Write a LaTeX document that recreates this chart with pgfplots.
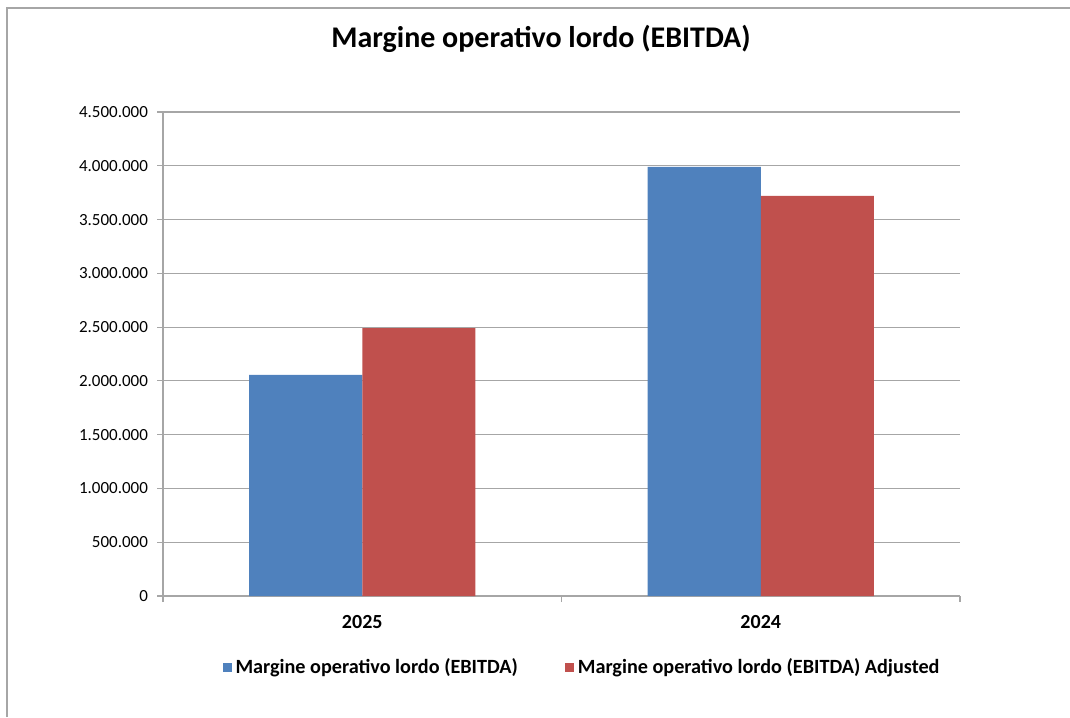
\documentclass[border=0pt]{standalone}
\usepackage{fontspec}
\setmainfont{Carlito}
\usepackage{pgfplots}
\pgfplotsset{compat=1.18}
\definecolor{eblue}{HTML}{4F81BD}
\definecolor{ered}{HTML}{C0504D}
\definecolor{gridc}{HTML}{A6A6A6}
\begin{document}
\begin{tikzpicture}
\useasboundingbox (0,0) rectangle (535pt,-358.5pt);
\draw[gridc, line width=1pt] (3.3pt,-358.5pt) -- (3.3pt,-3.8pt) -- (535pt,-3.8pt);
\node[font=\fontsize{15}{18}\selectfont\bfseries] at (270.5pt,-19.5pt) {Margine operativo lordo (EBITDA)};
\begin{axis}[
  at={(81.5pt,-298pt)}, anchor=south west,
  scale only axis, width=398.5pt, height=242pt,
  ymin=0, ymax=4500000, xmin=-0.5, xmax=1.5,
  enlargelimits=false, scaled y ticks=false,
  ybar=0pt, bar width=0.284,
  axis x line*=bottom, axis y line*=left,
  axis line style={gridc, line width=0.6pt},
  tick align=outside, major tick length=3pt,
  tick style={gridc, line width=0.6pt},
  ytick={0,500000,1000000,1500000,2000000,2500000,3000000,3500000,4000000,4500000},
  yticklabels={0,500.000,1.000.000,1.500.000,2.000.000,2.500.000,3.000.000,3.500.000,4.000.000,4.500.000},
  ymajorgrids, grid style={gridc, line width=0.6pt},
  yticklabel style={font=\fontsize{8.5}{10}\selectfont, text=black, xshift=-1pt},
  xtick={-0.5,0.5,1.5}, xticklabels={},
  extra x ticks={0,1}, extra x tick labels={2025,2024},
  extra x tick style={major tick length=0pt, grid=none,
     xticklabel style={font=\fontsize{10}{12}\selectfont\bfseries, text=black, yshift=-6pt}},
  /pgf/number format/assume math mode=true,
  legend columns=2,
  legend image code/.code={\fill[#1] (0pt,-2.25pt) rectangle (4.5pt,2.25pt);},
  legend style={draw=none, font=\fontsize{10.1}{12}\selectfont\bfseries,
     at={(0.527,-0.147)}, anchor=center,
     /tikz/every even column/.append style={column sep=21.5pt}},
]
\addplot[fill=eblue, draw=none] coordinates {(0,2056000) (1,3990000)};
\addplot[fill=ered, draw=none] coordinates {(0,2490000) (1,3721000)};
\legend{Margine operativo lordo (EBITDA),Margine operativo lordo (EBITDA) Adjusted}
\end{axis}
\end{tikzpicture}
\end{document}
